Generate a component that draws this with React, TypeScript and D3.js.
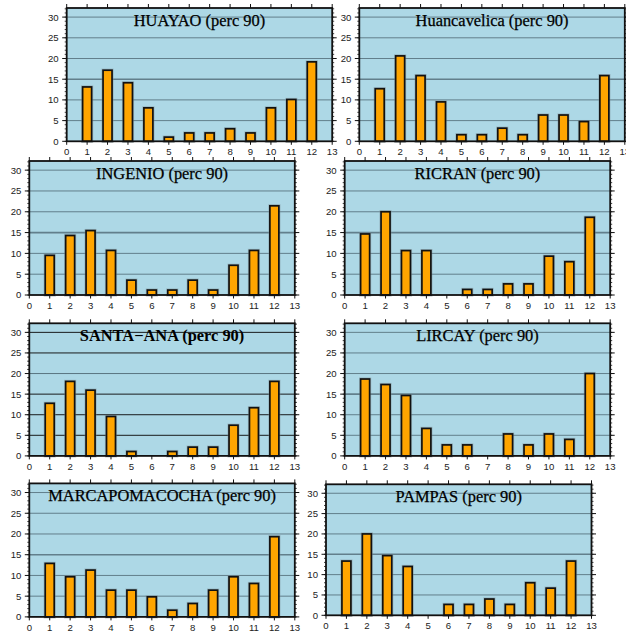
import React from 'react';
import * as d3 from 'd3';

// Monthly share (%) of days above the 90th percentile, per station
const MONTHS = [1, 2, 3, 4, 5, 6, 7, 8, 9, 10, 11, 12];
const X_TICKS = [0, 1, 2, 3, 4, 5, 6, 7, 8, 9, 10, 11, 12, 13];
const Y_TICKS = [0, 5, 10, 15, 20, 25, 30];

const STATIONS = [
  'HUAYAO',
  'Huancavelica',
  'INGENIO',
  'RICRAN',
  'SANTA\u2212ANA',
  'LIRCAY',
  'MARCAPOMACOCHA',
  'PAMPAS',
];

const HUAYAO = [13.13, 17.17, 14.14, 8.08, 1.01, 2.02, 2.02, 3.03, 2.02, 8.08, 10.1, 19.19];
const HUANCAVELICA = [12.7, 20.63, 15.87, 9.52, 1.59, 1.59, 3.17, 1.59, 6.35, 6.35, 4.76, 15.87];
const INGENIO = [9.52, 14.29, 15.48, 10.71, 3.57, 1.19, 1.19, 3.57, 1.19, 7.14, 10.71, 21.43];
const RICRAN = [14.67, 20.0, 10.67, 10.67, 0, 1.33, 1.33, 2.67, 2.67, 9.33, 8.0, 18.67];
const SANTA_ANA = [12.77, 18.09, 15.96, 9.57, 1.06, 0, 1.06, 2.13, 2.13, 7.45, 11.7, 18.09];
const LIRCAY = [18.67, 17.33, 14.67, 6.67, 2.67, 2.67, 0, 5.33, 2.67, 5.33, 4.0, 20.0];
const MARCAPOMACOCHA = [12.9, 9.68, 11.29, 6.45, 6.45, 4.84, 1.61, 3.23, 6.45, 9.68, 8.06, 19.35];
const PAMPAS = [13.33, 20.0, 14.67, 12.0, 0, 2.67, 2.67, 4.0, 2.67, 8.0, 6.67, 13.33];

const SERIES = [HUAYAO, HUANCAVELICA, INGENIO, RICRAN, SANTA_ANA, LIRCAY, MARCAPOMACOCHA, PAMPAS];

// Frame placement of each panel on the page
const LAYOUT = [
  { x: 66.7, y: 8, h: 133.3 },
  { x: 359.3, y: 8, h: 133.3 },
  { x: 29.3, y: 161, h: 134 },
  { x: 344.7, y: 161, h: 134 },
  { x: 29.3, y: 323.3, h: 132.6 },
  { x: 344.7, y: 323.3, h: 132.6 },
  { x: 29.3, y: 483.4, h: 133.5 },
  { x: 326, y: 484.3, h: 131 },
];

const PANEL_W = 265.5;
const Y_MAX = 32.2;
const BAR_HALF = 0.22;

const SANS = '"Liberation Sans", Arial, Helvetica, sans-serif';
const SERIF = '"Liberation Serif", "Times New Roman", serif';

function Panel({ title, values, x, y, h, heavy }: {
  title: string; values: number[]; x: number; y: number; h: number; heavy: boolean;
}) {
  const xs = d3.scaleLinear().domain([0, 13]).range([0, PANEL_W]);
  const ys = d3.scaleLinear().domain([0, Y_MAX]).range([h, 0]);
  const minor = d3.range(0, 33);
  const gridColor = heavy ? '#111' : '#55707b';

  return (
    <g transform={`translate(${x},${y})`}>
      <rect x={0} y={0} width={PANEL_W} height={h} fill="#add8e6" />
      {Y_TICKS.filter((t) => t > 0).map((t) => (
        <line
          key={`g${t}`}
          x1={0}
          x2={PANEL_W}
          y1={ys(t)}
          y2={ys(t)}
          stroke={heavy && t === 20 ? '#55707b' : gridColor}
          strokeOpacity={heavy ? 0.95 : 0.85}
          strokeWidth={t === 15 && !heavy ? 1.6 : 1}
        />
      ))}
      {MONTHS.map((m, i) => {
        const v = values[i];
        if (!v) return null;
        const x0 = xs(m - BAR_HALF);
        const w = xs(m + BAR_HALF) - x0;
        return (
          <g key={`b${m}`}>
            <rect x={x0} y={ys(v)} width={w} height={ys(0) - ys(v)} fill="none" stroke="#7a8c92" strokeOpacity={0.45} strokeWidth={3.2} />
            <rect x={x0} y={ys(v)} width={w} height={ys(0) - ys(v)} fill="#ffa500" stroke="#111" strokeWidth={1.7} />
          </g>
        );
      })}
      {/* outside ticks on all four sides */}
      {minor.map((t) => (
        <g key={`m${t}`} stroke="#111" strokeWidth={heavy ? 1 : 0.8}>
          <line x1={-2} x2={0} y1={ys(t)} y2={ys(t)} />
          <line x1={PANEL_W} x2={PANEL_W + 2} y1={ys(t)} y2={ys(t)} />
        </g>
      ))}
      {Y_TICKS.map((t) => (
        <g key={`y${t}`}>
          <line x1={-4.5} x2={0} y1={ys(t)} y2={ys(t)} stroke="#111" strokeWidth={1} />
          <line x1={PANEL_W} x2={PANEL_W + 4.5} y1={ys(t)} y2={ys(t)} stroke="#111" strokeWidth={1} />
          <text x={-8} y={ys(t)} dy="0.36em" textAnchor="end" fontFamily={SANS} fontSize={9.6} fill="#222">
            {t}
          </text>
        </g>
      ))}
      {X_TICKS.map((t) => (
        <g key={`x${t}`}>
          <line x1={xs(t)} x2={xs(t)} y1={-4} y2={0} stroke="#111" strokeWidth={1} />
          <line x1={xs(t)} x2={xs(t)} y1={h} y2={h + 3.5} stroke="#111" strokeWidth={1} />
          <text x={xs(t)} y={h + 14} textAnchor="middle" fontFamily={SANS} fontSize={9.6} fill="#222">
            {t}
          </text>
        </g>
      ))}
      <rect x={0} y={0} width={PANEL_W} height={h} fill="none" stroke="#111" strokeWidth={1.8} />
      <text
        x={PANEL_W / 2}
        y={18}
        textAnchor="middle"
        fontFamily={SERIF}
        fontSize={16.4}
        fontWeight={heavy ? 'bold' : 'normal'}
        fill="#000"
        stroke="#000"
        strokeWidth={heavy ? 0 : 0.25}
      >
        {`${title} (perc 90)`}
      </text>
    </g>
  );
}

export default function App() {
  return (
    <div style={{ position: 'fixed', left: 0, top: 0, width: 626, height: 633, background: '#fff' }}>
      <svg width={626} height={633} viewBox="0 0 626 633" style={{ display: 'block' }}>
        <rect width={626} height={633} fill="#fff" />
        {STATIONS.map((name, i) => (
          <Panel
            key={name}
            title={name}
            values={SERIES[i]}
            x={LAYOUT[i].x}
            y={LAYOUT[i].y}
            h={LAYOUT[i].h}
            heavy={i === 4}
          />
        ))}
      </svg>
    </div>
  );
}
